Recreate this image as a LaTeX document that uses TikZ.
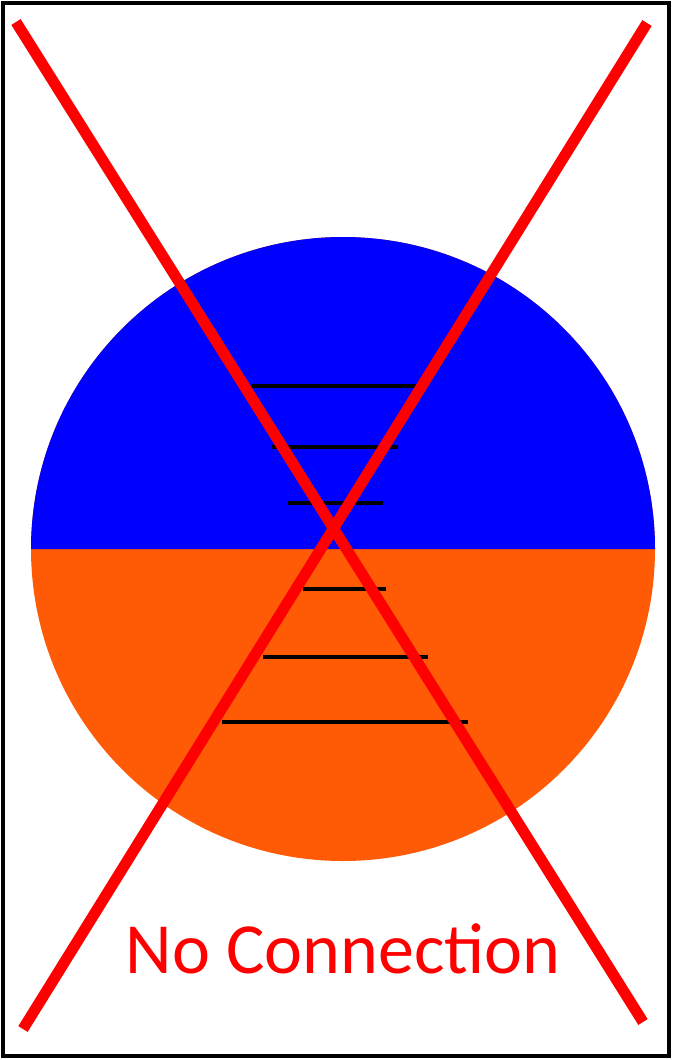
\documentclass[tikz,border=0pt]{standalone}
\usepackage{fontspec}
\setmainfont{Carlito}
\usetikzlibrary{calc}
\definecolor{topblue}{RGB}{0,0,255}
\definecolor{botorange}{RGB}{255,90,5}
\definecolor{cross}{RGB}{255,0,0}

\begin{document}
\begin{tikzpicture}[
      x=1pt, y=-1pt,
      frame/.style={draw=black, line width=4pt},
      rung/.style={draw=black, line width=4pt},
      xline/.style={draw=cross, line width=11pt},
      caption/.style={text=cross, font=\fontsize{72}{80}\selectfont, anchor=base, inner sep=0pt}
    ]
    \useasboundingbox (0,0) rectangle (673,1060);
    \draw[frame] (3,3) rectangle (669,1056);
    % the two halves
    \coordinate (ctr) at (343,549);
    \fill[botorange] (ctr) circle[radius=312];
    \fill[topblue] ($(ctr)+(-312,0)$) arc[start angle=180, end angle=360, radius=312] -- cycle;
    % rungs
    \foreach \ry/\xa/\xb in {386/252/417, 447/272/398, 503/288/383,
                             589/303/386, 657/263/428, 722/222/468}
      \draw[rung] (\xa,\ry) -- (\xb,\ry);
    % the cross
    \coordinate (tl) at (16,22);
    \coordinate (br) at (643,1022);
    \coordinate (tr) at (647,23);
    \coordinate (bl) at (23,1029);
    \draw[xline] (tl) -- (br);
    \draw[xline] (tr) -- (bl);
    \node[caption] (label) at (343,973) {No Connection};
  \end{tikzpicture}
\end{document}
